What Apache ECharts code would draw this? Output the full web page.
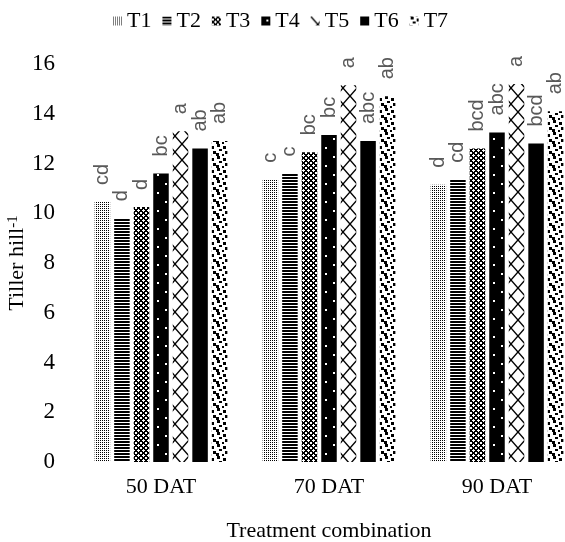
<!DOCTYPE html>
<html><head><meta charset="utf-8">
<script src="https://cdn.jsdelivr.net/npm/echarts@6/dist/echarts.min.js"></script>
<style>html,body{margin:0;padding:0;background:#fff}#c{width:565px;height:542px}</style>
</head><body><div id="c"></div>
<script>
// ---- data ----
const categories = ['50 DAT', '70 DAT', '90 DAT'];
const seriesNames = ['T1', 'T2', 'T3', 'T4', 'T5', 'T6', 'T7'];
const T1 = [10.45, 11.35, 11.15];
const T2 = [9.8, 11.6, 11.35];
const T3 = [10.25, 12.45, 12.6];
const T4 = [11.6, 13.15, 13.25];
const T5 = [13.3, 15.15, 15.2];
const T6 = [12.6, 12.9, 12.8];
const T7 = [12.9, 14.7, 14.1];
const L1 = ['cd', 'c', 'd'];
const L2 = ['d', 'c', 'cd'];
const L3 = ['d', 'bc', 'bcd'];
const L4 = ['bc', 'bc', 'abc'];
const L5 = ['a', 'a', 'a'];
const L6 = ['ab', 'abc', 'bcd'];
const L7 = ['ab', 'ab', 'ab'];
const yTickValues = [0, 2, 4, 6, 8, 10, 12, 14, 16];
const yAxisName = 'Tiller hill';
const yAxisSup = '-1';
const xAxisName = 'Treatment combination';

const values = [T1, T2, T3, T4, T5, T6, T7];
const letters = [L1, L2, L3, L4, L5, L6, L7];

// ---- patterns ----
function tile(w, h, draw) {
  const c = document.createElement('canvas');
  c.width = w; c.height = h;
  const g = c.getContext('2d');
  g.fillStyle = '#fff'; g.fillRect(0, 0, w, h);
  g.fillStyle = '#000'; g.strokeStyle = '#000';
  draw(g, w, h);
  return { image: c, repeat: 'repeat' };
}
const pT1 = tile(2, 2, g => { g.fillRect(0, 0, 1, 1); });
const pT2 = tile(4, 3, g => { g.fillRect(0, 0, 4, 2); });
const pT3 = tile(5, 5, g => {
  for (let x = 0; x < 5; x++) for (let y = 0; y < 5; y++) {
    if ((x + y) % 5 < 2 || ((x - y + 5) % 5) < 2) g.fillRect(x, y, 1, 1);
  }
});
const pT4 = tile(16, 18, g => {
  g.fillRect(0, 0, 16, 18);
  g.fillStyle = '#fff';
  g.fillRect(5, 3, 2, 2);
  g.fillRect(13, 12, 2, 2);
});
const pT5 = tile(14, 16, g => {
  g.lineWidth = 1.4;
  g.beginPath(); g.moveTo(0, 0); g.lineTo(14, 16); g.stroke();
  g.beginPath(); g.moveTo(14, 0); g.lineTo(0, 16); g.stroke();
});
const pT6 = '#000';
const pT7 = tile(12, 12, g => {
  g.fillRect(1, 0, 3, 3); g.fillRect(7, 2, 3, 3); g.fillRect(3, 5, 3, 2);
  g.fillRect(9, 7, 3, 3); g.fillRect(0, 9, 3, 3); g.fillRect(6, 10, 2, 2);
});
const fills = [pT1, pT2, pT3, pT4, pT5, pT6, pT7];

// ---- chart ----
const chart = echarts.init(document.getElementById('c'), null, { renderer: 'canvas' });
const serif = 'Liberation Serif';
const series = seriesNames.map((n, i) => ({
  name: n,
  type: 'bar',
  data: values[i].map((v, j) => ({ value: v, label: { formatter: letters[i][j] } })),
  barGap: '26%',
  barCategoryGap: '21%',
  itemStyle: { color: fills[i] },
  label: {
    show: true,
    position: 'top',
    distance: 17,
    rotate: 90,
    align: 'left',
    verticalAlign: 'middle',
    fontFamily: 'Liberation Sans',
    fontSize: 20,
    color: '#595959'
  },
  emphasis: { disabled: true }
}));

chart.setOption({
  animation: false,
  backgroundColor: '#fff',
  legend: {
    data: seriesNames,
    left: 108, top: 5,
    icon: 'rect',
    itemWidth: 9, itemHeight: 9, itemGap: 11,
    textStyle: { fontFamily: serif, fontSize: 22, color: '#000' }
  },
  grid: { left: 77, width: 504, top: 64, height: 398, outerBoundsMode: 'none', containLabel: false },
  xAxis: {
    type: 'category', data: categories,
    axisLine: { show: false }, axisTick: { show: false },
    axisLabel: { fontFamily: serif, fontSize: 22, color: '#000', margin: 14 },
    name: xAxisName, nameLocation: 'middle', nameGap: 58, nameMoveOverlap: false,
    nameTextStyle: { fontFamily: serif, fontSize: 22, color: '#000' }
  },
  yAxis: {
    type: 'value',
    min: yTickValues[0], max: yTickValues[yTickValues.length - 1],
    interval: yTickValues[1] - yTickValues[0],
    splitLine: { show: false }, axisLine: { show: false }, axisTick: { show: false },
    axisLabel: { fontFamily: serif, fontSize: 23, color: '#000', margin: 22 },
    name: yAxisName + '{sup|' + yAxisSup + '}',
    nameLocation: 'middle', nameGap: 48, nameRotate: 90, nameMoveOverlap: false,
    nameTextStyle: { fontFamily: serif, fontSize: 22, color: '#000',
      rich: { sup: { fontFamily: serif, fontSize: 15, color: '#000', verticalAlign: 'top', padding: [0, 0, 8, 0] } } }
  },
  series: series
});
</script></body></html>
